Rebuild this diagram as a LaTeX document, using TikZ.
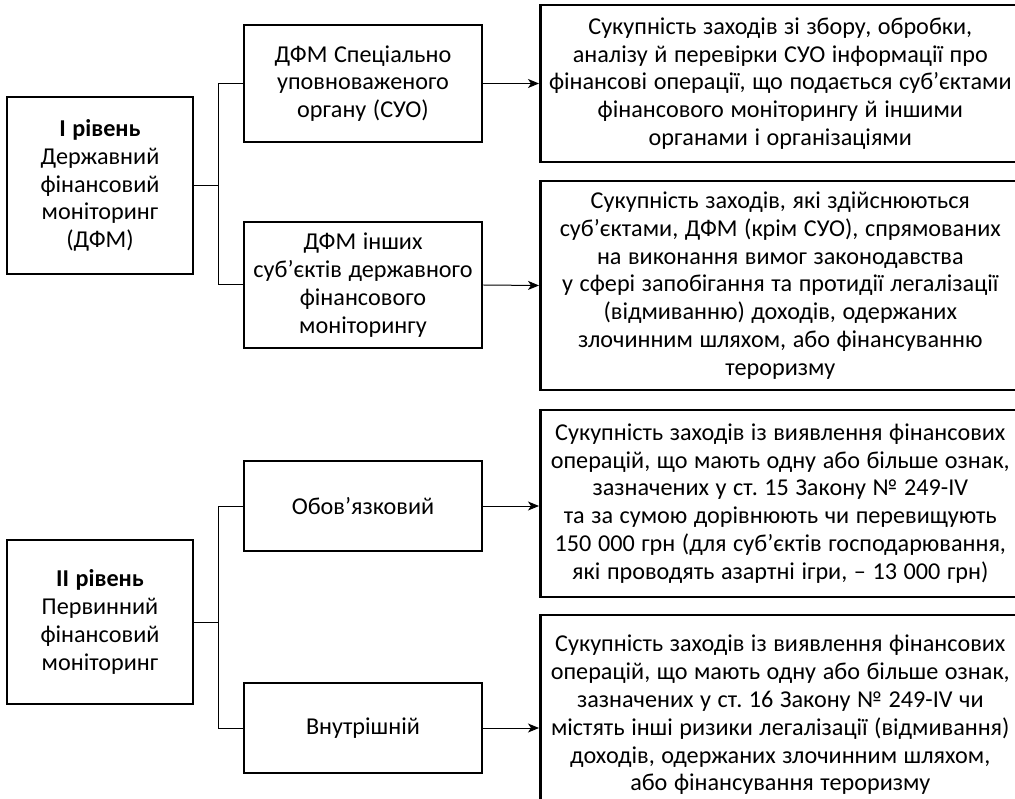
\documentclass[tikz,border=0pt]{standalone}
\usepackage{fontspec}
\setmainfont{Carlito}[WordSpace=1.2]
\usetikzlibrary{arrows.meta}
\begin{document}
\frenchspacing
\begin{tikzpicture}[x=1pt,y=-1pt,
  box/.style={draw, line width=2.6pt, align=center, inner sep=0pt, font=\fontsize{24.2}{27.8}\selectfont},
  conn/.style={line width=1pt},
  arr/.style={line width=1pt, -{Stealth[length=11pt,width=9pt,inset=3pt]}}]
\useasboundingbox (0,0) rectangle (1015,799);
\clip (0,0) rectangle (1015,799);
% Level I
\node[box, minimum width=186pt, minimum height=177pt] (l1) at (100,185.5)
  {\textbf{І рівень}\\Державний\\фінансовий\\моніторинг\\(ДФМ)};
\node[box, minimum width=238pt, minimum height=117pt] (a1) at (363,83.5)
  {ДФМ Спеціально\\уповноваженого\\органу (СУО)};
\node[box, minimum width=238pt, minimum height=126pt] (a2) at (363,285)
  {ДФМ інших\\суб’єктів державного\\фінансового\\моніторингу};
\node[box, minimum width=480pt, minimum height=157pt, anchor=west] (r1) at (539,83.5)
  {Сукупність заходів зі збору, обробки,\\аналізу й перевірки СУО інформації про\\фінансові операції, що подається суб’єктами\\фінансового моніторингу й іншими\\органами і організаціями};
\node[box, minimum width=480pt, minimum height=209pt, anchor=west] (r2) at (539,285.5)
  {Сукупність заходів, які здійснюються\\суб’єктами, ДФМ (крім СУО), спрямованих\\на виконання вимог законодавства\\у сфері запобігання та протидії легалізації\\(відмиванню) доходів, одержаних\\злочинним шляхом, або фінансуванню\\тероризму};
\coordinate (b1) at (218,0);
\draw[conn] (l1.east) -- (l1.east -| b1) |- (a1.west);
\draw[conn] (l1.east -| b1) |- (a2.west);
\draw[arr] (a1.east) -- (r1.west);
\draw[arr] (a2.east) -- (r2.west);
% Level II
\node[box, minimum width=186pt, minimum height=164pt] (l2) at (100,622)
  {\textbf{ІІ рівень}\\Первинний\\фінансовий\\моніторинг};
\node[box, minimum width=238pt, minimum height=90pt] (ob) at (363,506)
  {Обов’язковий};
\node[box, minimum width=238pt, minimum height=90pt] (vn) at (363,728)
  {Внутрішній};
\node[box, minimum width=480pt, minimum height=187pt, anchor=west] (r3) at (539,503.5)
  {Сукупність заходів із виявлення фінансових\\операцій, що мають одну або більше ознак,\\зазначених у ст. 15 Закону № 249-IV\\та за сумою дорівнюють чи перевищують\\150 000 грн (для суб’єктів господарювання,\\які проводять азартні ігри, – 13 000 грн)};
\node[box, minimum width=480pt, minimum height=200pt, anchor=west] (r4) at (539,715)
  {Сукупність заходів із виявлення фінансових\\операцій, що мають одну або більше ознак,\\зазначених у ст. 16 Закону № 249-IV чи\\містять інші ризики легалізації (відмивання)\\доходів, одержаних злочинним шляхом,\\або фінансування тероризму};
\coordinate (b2) at (218,0);
\draw[conn] (l2.east) -- (l2.east -| b2) |- (ob.west);
\draw[conn] (l2.east -| b2) |- (vn.west);
\draw[arr] (ob.east) -- (ob.east -| r3.west);
\draw[arr] (vn.east) -- (vn.east -| r4.west);
\end{tikzpicture}
\end{document}
